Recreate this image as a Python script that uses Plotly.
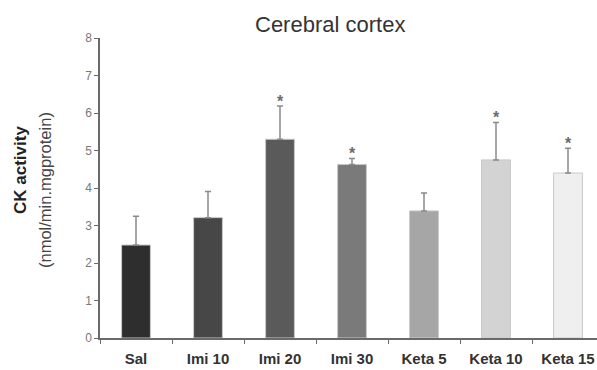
import plotly.graph_objects as go

# Treatment groups and CK activity (mean and upper SD)
groups = ["Sal", "Imi 10", "Imi 20", "Imi 30", "Keta 5", "Keta 10", "Keta 15"]
means = [2.48, 3.21, 5.30, 4.63, 3.39, 4.75, 4.40]
sd_upper = [0.77, 0.70, 0.89, 0.16, 0.48, 1.00, 0.66]
significant = [False, False, True, True, False, True, True]
bar_colors = ["#2e2e2e", "#474747", "#5a5a5a", "#7a7a7a", "#a6a6a6", "#d3d3d3", "#efefef"]
y_ticks = [0, 1, 2, 3, 4, 5, 6, 7, 8]

narrow = "Liberation Sans Narrow, Arial Narrow, Liberation Sans, sans-serif"
sans = "Liberation Sans, Arial, sans-serif"

fig = go.Figure(
    go.Bar(
        x=groups,
        y=means,
        width=0.4,
        marker=dict(color=bar_colors, line=dict(color="#c8c8c8", width=1)),
        error_y=dict(
            type="data",
            symmetric=False,
            array=sd_upper,
            arrayminus=[0] * len(means),
            color="#8a8a8a",
            thickness=1.5,
            width=3,
        ),
    )
)

# Significance markers above the error bars
for g, m, s, sig in zip(groups, means, sd_upper, significant):
    if sig:
        fig.add_annotation(
            x=g, y=m + s, text="<b>*</b>", showarrow=False, yanchor="bottom", yshift=-6,
            font=dict(family=sans, size=16, color="#6a6a6a"),
        )

fig.add_annotation(
    xref="paper", yref="paper", x=(330 - 100) / 497, y=1 + (38 - 24) / 300,
    text="Cerebral cortex", showarrow=False, xanchor="center", yanchor="middle",
    font=dict(family=sans, size=22, color="#333333"),
)
fig.add_annotation(
    xref="paper", yref="paper", x=-(100 - 21) / 497, y=(338 - 170) / 300,
    text="<b>CK activity</b>", showarrow=False, textangle=-90,
    xanchor="center", yanchor="middle",
    font=dict(family=sans, size=17, color="#222222"),
)
fig.add_annotation(
    xref="paper", yref="paper", x=-(100 - 45) / 497, y=(338 - 190) / 300,
    text="(nmol/min.mgprotein)", showarrow=False, textangle=-90,
    xanchor="center", yanchor="middle",
    font=dict(family=sans, size=16.5, color="#444444"),
)

fig.update_layout(
    width=597,
    height=370,
    margin=dict(l=100, r=0, t=38, b=32),
    paper_bgcolor="white",
    plot_bgcolor="white",
    showlegend=False,
    xaxis=dict(
        type="category",
        range=[-0.5, -0.5 + 497 / 72],
        showline=True, linecolor="#6a6a6a", linewidth=1.5,
        ticks="outside", tickson="boundaries", ticklen=4, tickcolor="#6a6a6a",
        showgrid=False,
        tickfont=dict(family=narrow, size=15, color="#333333"),
        tickprefix="<b>", ticksuffix="</b>",
        ticklabelstandoff=6,
    ),
    yaxis=dict(
        range=[0, 8],
        tickvals=y_ticks,
        showline=True, linecolor="#6a6a6a", linewidth=1.5,
        ticks="outside", ticklen=4, tickcolor="#6a6a6a",
        showgrid=False, zeroline=False,
        tickfont=dict(family=narrow, size=12, color="#777777"),
    ),
)

fig.write_html("out.html")
